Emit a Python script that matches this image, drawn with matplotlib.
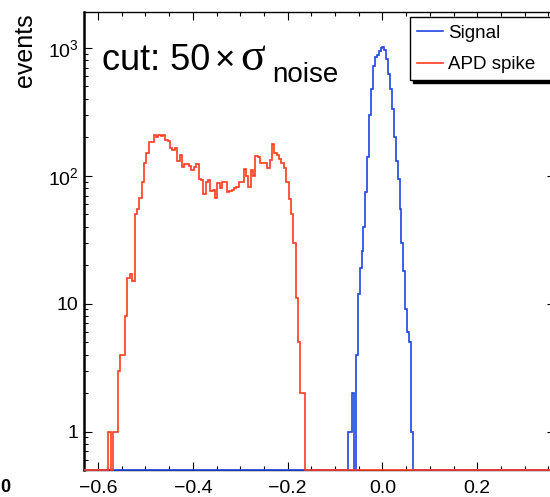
import numpy as np
import matplotlib
matplotlib.use('Agg')
import matplotlib.pyplot as plt
from matplotlib.ticker import MultipleLocator, FixedLocator, FixedFormatter, LogLocator

plt.rcParams['font.family'] = ['Liberation Sans', 'DejaVu Sans']
plt.rcParams['mathtext.fontset'] = 'custom'
plt.rcParams['mathtext.rm'] = 'Liberation Sans'

# axis range (right part of the frame is cut off by the picture)
x_min, x_max = -0.629, 0.364
y_min, y_max = 0.5, 1920

# APD spike histogram, bin width 0.005 starting at -0.578
spike_edges = np.round(-0.578 + 0.005 * np.arange(84), 4)
spike_counts = [1, 0, 1, 1, 3, 4, 4, 8, 16, 17,
                15, 50, 55, 67, 90, 126, 152, 184, 184, 208,
                200, 210, 205, 210, 190, 188, 165, 158, 165, 130,
                145, 118, 123, 123, 120, 110, 118, 123, 95, 92,
                72, 90, 92, 76, 77, 67, 88, 80, 90, 90,
                75, 76, 78, 80, 82, 90, 90, 114, 100, 82,
                110, 100, 142, 140, 126, 126, 127, 115, 133, 177,
                150, 145, 135, 126, 115, 90, 66, 50, 30, 11,
                5, 2, 2]

# Signal histogram, bin width 0.004 starting at -0.072
signal_edges = np.round(-0.072 + 0.004 * np.arange(35), 4)
signal_counts = [1, 1, 2, 0, 4, 12, 19, 26, 40, 75,
                 140, 300, 480, 720, 850, 880, 940, 990, 1010, 960,
                 820, 620, 480, 330, 200, 130, 95, 55, 30, 18,
                 9, 6, 5, 1]

y_ticks = [1, 10, 100, 1000]
y_ticklabels = ['1', '10', r'$\mathregular{10^{2}}$', r'$\mathregular{10^{3}}$']

blue = '#1f46e0'
red = '#ff3c1e'


def full_range(edges, counts):
    # pad with empty bins out to the frame, zeros sit on the bottom line
    e = np.concatenate([[x_min], edges, [x_max]])
    c = np.concatenate([[0], counts, [0]]).astype(float)
    c[c <= 0] = y_min
    return e, c


fig = plt.figure(figsize=(5.5, 4.97), dpi=100)
ax = fig.add_axes([84.3 / 550, 27 / 497, 470.7 / 550, 458.3 / 497])

e, c = full_range(signal_edges, signal_counts)
ax.stairs(c, e, baseline=None, color=blue, lw=1.2, clip_on=False, zorder=3, label='Signal')
e, c = full_range(spike_edges, spike_counts)
ax.stairs(c, e, baseline=None, color=red, lw=1.2, clip_on=False, zorder=3, label='APD spike')

ax.set_yscale('log')
ax.set_xlim(x_min, x_max)
ax.set_ylim(y_min, y_max)

ax.xaxis.set_major_locator(MultipleLocator(0.2))
ax.xaxis.set_minor_locator(MultipleLocator(0.05))
ax.yaxis.set_major_locator(FixedLocator(y_ticks))
ax.yaxis.set_major_formatter(FixedFormatter(y_ticklabels))
ax.yaxis.set_minor_locator(LogLocator(base=10, subs=np.arange(2, 10)))
ax.yaxis.set_minor_formatter(FixedFormatter([]))

ax.tick_params(which='both', direction='in', top=True, right=True, width=0.8, labelsize=14)
ax.tick_params(which='major', length=5.8)
ax.tick_params(which='minor', length=3.2)
ax.tick_params(axis='x', pad=7)
ax.tick_params(axis='y', pad=4)

ax.spines['right'].set_visible(False)
ax.spines['left'].set_linewidth(1.8)
ax.spines['top'].set_linewidth(1.0)
ax.spines['bottom'].set_linewidth(1.0)

ax.set_ylabel('events', fontsize=18, loc='top')
ax.yaxis.set_label_coords(-47.6 / 470.7, 457 / 458.3)

# cut label
base = 1 - 70 / 497
fig.text(101.7 / 550, base, 'cut: 50', fontsize=26, va='baseline')
fig.text(215 / 550, base, '\u00d7', fontsize=25, va='baseline')
fig.text(240 / 550, base, '\u03c3', fontsize=33, va='baseline',
         family=['Liberation Serif', 'DejaVu Serif'])
fig.text(272 / 550, 1 - 81.7 / 497, 'noise', fontsize=20, va='baseline')

# piece of the neighbouring panel's tick label
fig.text(0.5 / 550, 1 - 492 / 497, '0', fontsize=13, fontweight='bold', ha='left', va='baseline')

ax.legend(loc='upper left', bbox_to_anchor=(410 / 550, 1 - 80 / 497, 0.3, 62.7 / 497),
          bbox_transform=fig.transFigure, mode='expand', borderaxespad=0,
          fontsize=13.5, borderpad=0.38, labelspacing=0.78, handlelength=1.39,
          handletextpad=0.25, fancybox=False, edgecolor='black', framealpha=1,
          shadow={'color': 'black', 'alpha': 1})
leg = ax.get_legend()
leg.get_frame().set_linewidth(1.0)

fig.savefig('out.png', dpi=100)
